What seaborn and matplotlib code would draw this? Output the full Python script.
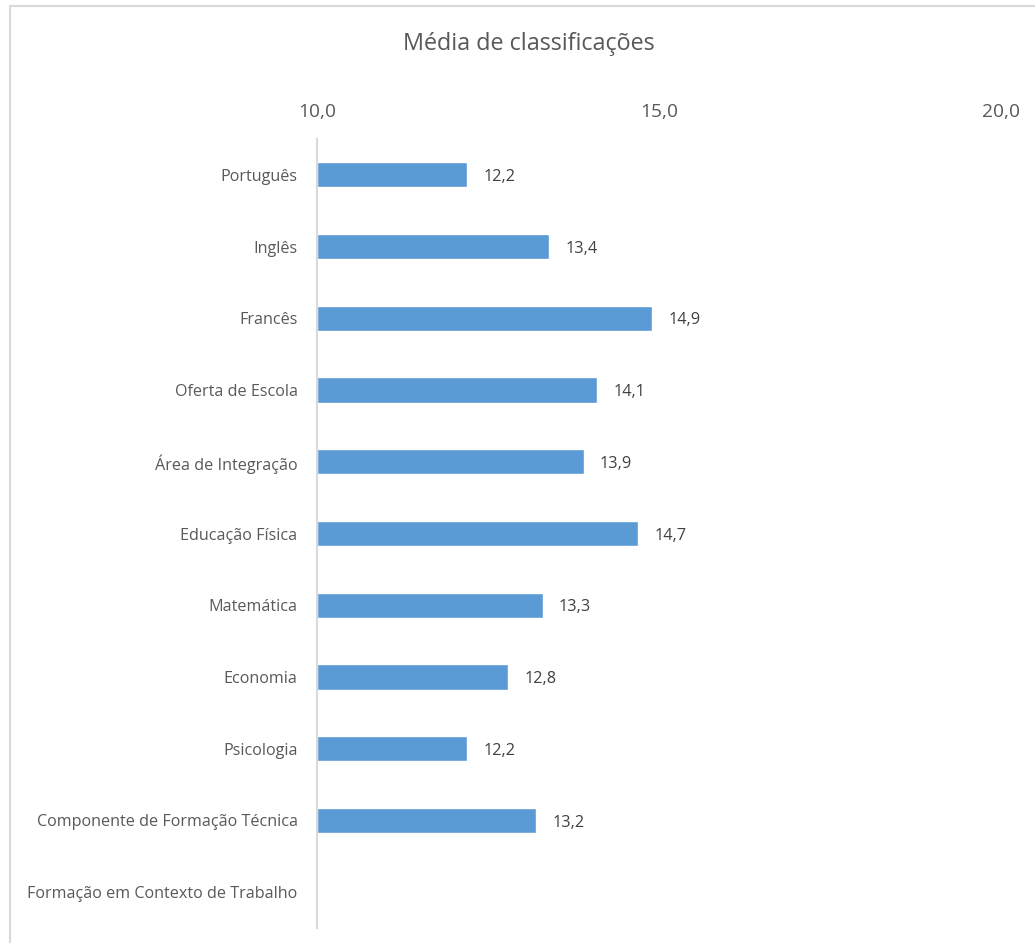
import matplotlib
matplotlib.use("Agg")
import matplotlib.pyplot as plt
import seaborn as sns
import numpy as np
import pandas as pd
from matplotlib.patches import Rectangle

categories = ["Português", "Inglês", "Francês", "Oferta de Escola", "Área de Integração",
              "Educação Física", "Matemática", "Economia", "Psicologia",
              "Componente de Formação Técnica", "Formação em Contexto de Trabalho"]
values = [12.2, 13.4, 14.9, 14.1, 13.9, 14.7, 13.3, 12.8, 12.2, 13.2, np.nan]
ticks = [10.0, 15.0, 20.0]
title = "Média de classificações"

sns.set_theme(style="white")
plt.rcParams['font.family'] = ['Open Sans', 'DejaVu Sans']

df = pd.DataFrame({"cat": categories, "val": values})

fig = plt.figure(figsize=(10.35, 9.43), dpi=100)
ax = fig.add_axes([0.3063, 0.0159, 0.6606, 0.8367])

base = 10.0
sns.barplot(data=df, y="cat", x=df["val"] - base, left=base, color="#5B9BD5",
            width=0.35, ax=ax, orient="h", saturation=1)

ax.set_xlim(10, 20)
ax.set_xticks(ticks)
ax.set_xticklabels([f"{t:.1f}".replace(".", ",") for t in ticks])
ax.xaxis.tick_top()
ax.tick_params(axis="x", labelsize=13.8, colors="#595959", length=0, pad=13)
ax.tick_params(axis="y", labelsize=11.6, colors="#595959", length=0, pad=14)
ax.set_xlabel("")
ax.set_ylabel("")
for s in ["top", "right", "bottom"]:
    ax.spines[s].set_visible(False)
ax.spines["left"].set_color("#D9D9D9")
ax.spines["left"].set_linewidth(1.5)

for i, v in enumerate(values):
    if not np.isnan(v):
        ax.text(v + 0.24, i + 0.03, f"{v:.1f}".replace(".", ","), va="center", ha="left",
                fontsize=11.7, color="#404040")

fig.text(0.511, 0.953, title, ha="center", va="center", fontsize=16.8, color="#595959")

fig.patches.append(Rectangle((10 / 1035, -0.05), 1.3, 1 - 6 / 943 + 0.05,
                             transform=fig.transFigure, fill=False,
                             edgecolor="#D9D9D9", linewidth=1.5))

fig.savefig("out.png", dpi=100)
